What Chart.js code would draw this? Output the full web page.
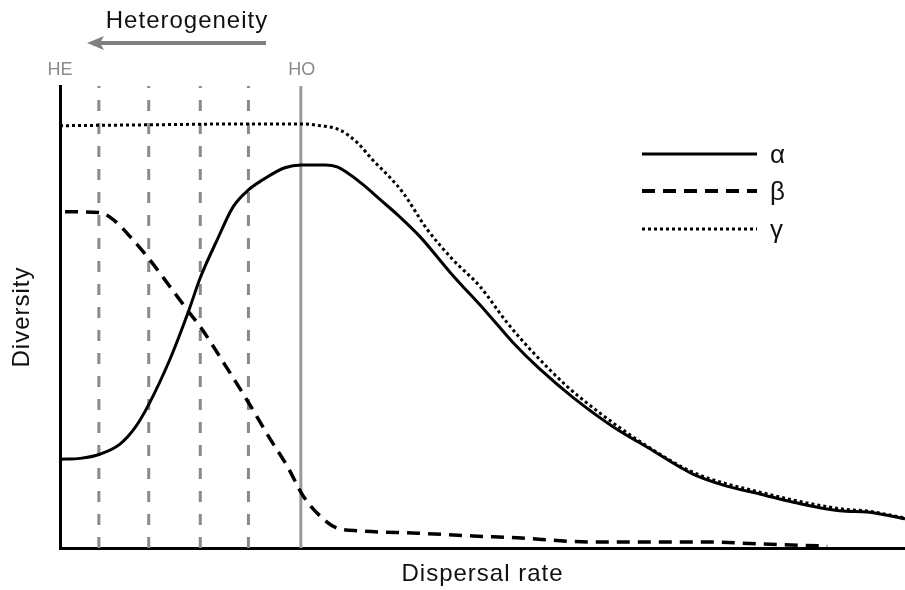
<!DOCTYPE html>
<html><head><meta charset="utf-8">
<script src="https://cdn.jsdelivr.net/npm/chart.js@4.4.1/dist/chart.umd.min.js"></script>
<style>html,body{margin:0;padding:0;background:#fff}#wrap{width:905px;height:590px}</style>
</head><body><div id="wrap"><canvas id="c" width="905" height="590"></canvas></div>
<script>
// Dispersal rate (0-100) and diversity (0-100)
const alphaX = [0, 2.4, 4.7, 7.1, 8.9, 10.4, 13.0, 15.2, 16.6, 18.6, 20.5, 22.3, 24.0, 26.6, 28.6, 31.4, 32.8, 34.0, 35.9, 37.9, 40.2, 42.6, 46.2, 50.5, 53.6, 56.8, 60.7, 65.4, 69.5, 74.9, 78.9, 82.8, 86.8, 92.7, 95.5, 100];
const alphaY = [19.2, 19.4, 20.3, 22.5, 26.1, 30.7, 40.8, 51.2, 58.5, 66.7, 73.9, 77.5, 79.7, 82.3, 82.9, 82.9, 82.5, 81.2, 78.6, 75.4, 71.7, 67.4, 59.6, 51.0, 44.5, 38.7, 32.6, 26.3, 21.8, 16.0, 13.4, 11.7, 9.9, 8.0, 7.8, 6.3];
const betaX = [0.6, 4.7, 6.3, 8.3, 10.4, 13.0, 15.2, 16.6, 19.5, 22.3, 24.9, 26.9, 28.8, 31.6, 32.8, 35.5, 42.3, 48.9, 54.1, 63.1, 76.1, 82.8, 90.8];
const betaY = [72.8, 72.6, 71.1, 67.4, 62.9, 56.6, 51.2, 47.9, 39.7, 31.5, 23.5, 17.7, 11.2, 5.6, 4.3, 3.7, 3.2, 2.6, 2.2, 1.3, 1.3, 0.9, 0.4];
const gammaX = [0, 10.7, 22.5, 28.6, 30.8, 33.1, 35.2, 37.0, 39.1, 40.6, 43.4, 46.5, 49.7, 52.9, 56.0, 60.0, 63.9, 68.6, 74.9, 82.8, 92.7, 95.5, 100];
const gammaY = [91.4, 91.6, 91.8, 91.8, 91.4, 90.5, 87.7, 84.0, 80.1, 76.9, 69.1, 62.4, 56.6, 48.8, 42.3, 35.0, 29.2, 23.1, 16.4, 12.1, 8.4, 8.0, 6.5];
const seriesLabels = ['α', 'β', 'γ'];
const dividerX = [4.6, 10.5, 16.6, 22.3]; // dashed heterogeneity levels
const heX = 0, hoX = 28.5;
const topLabels = ['HE', 'HO'];
const arrowLabel = 'Heterogeneity';
const xTitle = 'Dispersal rate', yTitle = 'Diversity';

const FONT = "'Liberation Sans', Arial, sans-serif";
const pts = (xs, ys) => xs.map((x, i) => ({x, y: ys[i]}));

const datasets = [
  {label: seriesLabels[0], data: pts(alphaX, alphaY), borderColor: '#000', borderWidth: 3, borderDash: []},
  {label: seriesLabels[1], data: pts(betaX, betaY), borderColor: '#000', borderWidth: 3.5, borderDash: [13, 8]},
  {label: seriesLabels[2], data: pts(gammaX, gammaY), borderColor: '#000', borderWidth: 3, borderDash: [3, 3]}
].map(d => Object.assign(d, {pointRadius: 0, cubicInterpolationMode: 'monotone', fill: false, borderCapStyle: 'butt'}));

dividerX.forEach(x => datasets.push({label: '', data: [{x, y: 0}, {x, y: 100}], borderColor: '#8a8a8a', borderWidth: 3, borderDash: [11, 12], pointRadius: 0, clip: false}));
datasets.push({label: '', data: [{x: hoX, y: 0}, {x: hoX, y: 100}], borderColor: '#9a9a9a', borderWidth: 3, pointRadius: 0, clip: false});

const spacing = {id: 'spacing', beforeDraw(c) { c.ctx.letterSpacing = '1px'; }};

const annot = {
  id: 'annot',
  afterDraw(c) {
    const ctx = c.ctx, xs = c.scales.x;
    ctx.save();
    ctx.letterSpacing = '0px';
    // top labels HE / HO
    ctx.fillStyle = '#8a8a8a';
    ctx.font = '18px ' + FONT;
    ctx.textAlign = 'center'; ctx.textBaseline = 'middle';
    ctx.fillText(topLabels[0], xs.getPixelForValue(heX) + 0, 70);
    ctx.fillText(topLabels[1], xs.getPixelForValue(hoX) + 1, 70);
    // arrow
    ctx.strokeStyle = '#808080'; ctx.fillStyle = '#808080';
    ctx.lineWidth = 4;
    ctx.beginPath(); ctx.moveTo(266, 43); ctx.lineTo(96, 43); ctx.stroke();
    ctx.beginPath(); ctx.moveTo(87, 43); ctx.lineTo(104, 36); ctx.lineTo(100, 43); ctx.lineTo(104, 50); ctx.closePath(); ctx.fill();
    // arrow label
    ctx.fillStyle = '#111';
    ctx.letterSpacing = '1px';
    ctx.font = '24px ' + FONT;
    ctx.fillText(arrowLabel, 187, 21);
    // legend
    const rows = [154, 191, 229];
    for (let i = 0; i < 3; i++) {
      const ds = c.data.datasets[i];
      ctx.strokeStyle = ds.borderColor;
      ctx.lineWidth = i === 1 ? 4 : 3;
      ctx.setLineDash(ds.borderDash);
      ctx.beginPath(); ctx.moveTo(642, rows[i]); ctx.lineTo(757, rows[i]); ctx.stroke();
      ctx.setLineDash([]);
      ctx.fillStyle = '#111';
      ctx.letterSpacing = '0px';
      ctx.font = '26px ' + FONT;
      ctx.textAlign = 'left';
      ctx.fillText(ds.label, 770, rows[i] + 2);
    }
    ctx.restore();
  }
};

new Chart(document.getElementById('c'), {
  type: 'line',
  data: {datasets},
  options: {
    responsive: false, animation: false, devicePixelRatio: 1,
    layout: {padding: {top: 86, left: 0, right: 0, bottom: 0}},
    plugins: {legend: {display: false}, tooltip: {enabled: false}, title: {display: false}},
    scales: {
      x: {type: 'linear', min: 0, max: 100,
          ticks: {display: false}, grid: {display: false, drawTicks: false},
          border: {display: true, color: '#000', width: 3},
          title: {display: true, text: xTitle, color: '#111', font: {family: FONT, size: 24}, padding: {top: 0, bottom: 1}},
          afterFit(s) { s.height = 42; }},
      y: {type: 'linear', min: 0, max: 100,
          ticks: {display: false}, grid: {display: false, drawTicks: false},
          border: {display: true, color: '#000', width: 3},
          title: {display: true, text: yTitle, color: '#111', font: {family: FONT, size: 24}, padding: {top: 8, bottom: 0}},
          afterFit(s) { s.width = 60; }}
    }
  },
  plugins: [spacing, annot]
});
</script></body></html>
